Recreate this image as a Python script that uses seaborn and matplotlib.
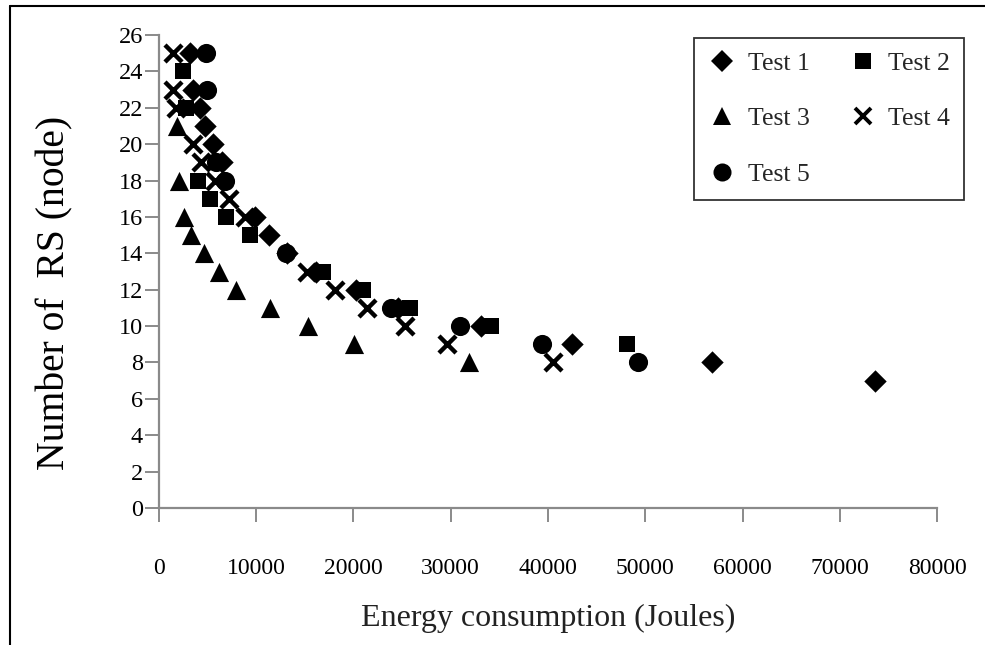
import matplotlib
matplotlib.use("Agg")
import matplotlib.pyplot as plt
import seaborn as sns
import pandas as pd
from matplotlib.lines import Line2D

# ---- data ----
test1_x = [3200, 3500, 4200, 4700, 5550, 6500, 9870, 11300, 13150, 16150, 20250, 24600, 33100, 42450, 56850, 73600]
test1_y = [25, 23, 22, 21, 20, 19, 16, 15, 14, 13, 12, 11, 10, 9, 8, 7]
test2_x = [2470, 2800, 4000, 5250, 6900, 9400, 16850, 21000, 25800, 34100, 48100]
test2_y = [24, 22, 18, 17, 16, 15, 13, 12, 11, 10, 9]
test3_x = [1850, 2050, 2570, 3330, 4630, 6170, 7920, 11400, 15300, 20050, 31900]
test3_y = [21, 18, 16, 15, 14, 13, 12, 11, 10, 9, 8]
test4_x = [1450, 1450, 1750, 3500, 4350, 5760, 7200, 8850, 15200, 18100, 21400, 25300, 29600, 40500]
test4_y = [25, 23, 22, 20, 19, 18, 17, 16, 13, 12, 11, 10, 9, 8]
test5_x = [4830, 4950, 5850, 6800, 13050, 23850, 30950, 39400, 49250]
test5_y = [25, 23, 19, 18, 14, 11, 10, 9, 8]

series_names = ["Test 1", "Test 2", "Test 3", "Test 4", "Test 5"]
x_ticks = [0, 10000, 20000, 30000, 40000, 50000, 60000, 70000, 80000]
y_ticks = list(range(0, 27, 2))
x_label = "Energy consumption (Joules)"
y_label = "Number of  RS (node)"

xs = [test1_x, test2_x, test3_x, test4_x, test5_x]
ys = [test1_y, test2_y, test3_y, test4_y, test5_y]
frames = [pd.DataFrame({"energy": x, "rs": y, "test": n}) for x, y, n in zip(xs, ys, series_names)]
df = pd.concat(frames, ignore_index=True)

sns.set_theme(style="white")
plt.rcParams["font.family"] = ["Liberation Serif", "DejaVu Serif"]

fig = plt.figure(figsize=(9.85, 6.45), dpi=100)
ax = fig.add_axes([0.1614, 0.2124, 0.7899, 0.7333])

styles = {
    "Test 1": dict(marker="D", s=130, linewidth=0),
    "Test 2": dict(marker="s", s=140, linewidth=0),
    "Test 3": dict(marker="^", s=190, linewidth=0),
    "Test 4": dict(marker="x", s=150, linewidth=3.2),
    "Test 5": dict(marker="o", s=190, linewidth=0),
}
for name in series_names:
    sub = df[df["test"] == name]
    sns.scatterplot(data=sub, x="energy", y="rs", ax=ax, color="black",
                    edgecolor="black", legend=False, zorder=3, **styles[name])

ax.set_xlim(0, 80000)
ax.set_ylim(0, 26)
ax.set_xticks(x_ticks)
ax.set_yticks(y_ticks)
ax.set_xticklabels([str(t) for t in x_ticks])
ax.set_yticklabels([str(t) for t in y_ticks])

for side in ["top", "right"]:
    ax.spines[side].set_visible(False)
for side in ["left", "bottom"]:
    ax.spines[side].set_color("#8a8a8a")
    ax.spines[side].set_linewidth(1.6)

ax.tick_params(axis="both", which="major", direction="out", color="#8a8a8a",
               width=1.4, length=10, labelcolor="black", bottom=True, left=True)
ax.tick_params(axis="x", labelsize=17, pad=26)
ax.tick_params(axis="y", labelsize=17.5, pad=1.5)

ax.set_xlabel(x_label, fontsize=23, color="#222222", labelpad=18)
ax.set_ylabel(y_label, fontsize=28.5, color="black")
ax.yaxis.set_label_coords((73 - 159) / 778, (508 - 293) / 473)

# legend (row-wise order: T1 T2 / T3 T4 / T5)
leg_markers = {"Test 1": ("D", 11, 0), "Test 2": ("s", 11.5, 0), "Test 3": ("^", 13, 0),
               "Test 4": ("x", 12, 2.8), "Test 5": ("o", 13, 0)}
handles = {}
for name in series_names:
    m, ms, mew = leg_markers[name]
    handles[name] = Line2D([], [], linestyle="none", marker=m, markersize=ms,
                           markeredgewidth=mew, color="black", markeredgecolor="black")
order = ["Test 1", "Test 3", "Test 5", "Test 2", "Test 4"]
leg = ax.legend([handles[n] for n in order], order, ncol=2, loc="upper left",
                bbox_to_anchor=(694 / 985, 1 - 38 / 645), bbox_transform=fig.transFigure,
                borderaxespad=0, frameon=True, fancybox=False, edgecolor="black",
                fontsize=18.5, handletextpad=0.45, columnspacing=1.5, labelspacing=1.26,
                borderpad=0.55, handlelength=1.1)
leg.get_frame().set_linewidth(1.3)

# page frame lines (left and top)
fig.add_artist(Line2D([9.5 / 985, 9.5 / 985], [0, 1 - 6 / 645], transform=fig.transFigure,
                      color="black", linewidth=1.5))
fig.add_artist(Line2D([9.5 / 985, 1], [1 - 6 / 645, 1 - 6 / 645], transform=fig.transFigure,
                      color="black", linewidth=1.5))

fig.savefig("out.png", dpi=100, facecolor="white")
